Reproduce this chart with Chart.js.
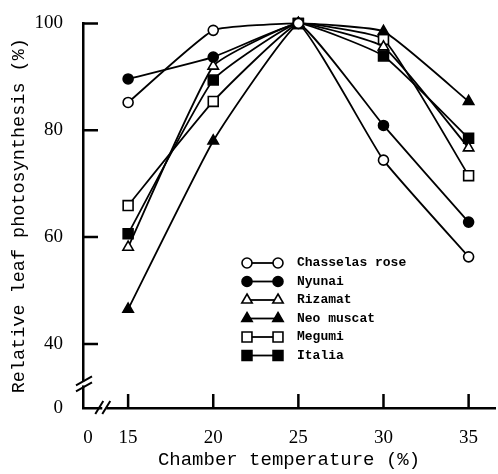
<!DOCTYPE html>
<html>
<head>
<meta charset="utf-8">
<script src="https://cdn.jsdelivr.net/npm/chart.js@4"></script>
<style>
  body { margin: 0; background: #fff; }
  #wrap { width: 498px; height: 474px; position: relative; }
</style>
</head>
<body>
<div id="wrap"><canvas id="tempChart"></canvas></div>
<script>
// Data
const temps = [15, 20, 25, 30, 35];
const chasselasRose = [85.2, 98.7, 100, 74.4, 56.3];
const nyunai = [89.6, 93.7, 100, 80.9, 62.8];
const rizamat = [58.1, 92.0, 100, 95.6, 76.7];
const neoMuscat = [46.5, 78.0, 100, 98.5, 85.4];
const megumi = [65.9, 85.4, 100, 97.0, 71.5];
const italia = [60.6, 89.4, 100, 93.9, 78.5];

const xTicks = [15, 20, 25, 30, 35];
const yTicks = [40, 60, 80, 100];

// broken axes: the "0" labels sit on compressed positions
const X_ZERO = 12.65, X_MIN = 12.35, X_MAX = 36.55, X_BREAK = 13.6;
const Y_ZERO = 28, Y_MIN = 28, Y_MAX = 100, Y_BREAK = 32.6;

function series(label, values, style, filled, radius) {
    return {
        label: label,
        data: temps.map((t, i) => ({ x: t, y: values[i] })),
        borderColor: '#000',
        borderWidth: 1.8,
        tension: 0.13,
        pointStyle: style,
        pointRadius: radius,
        pointHoverRadius: radius,
        pointBorderWidth: 1.6,
        pointBackgroundColor: filled ? '#000' : '#fff',
        pointBorderColor: '#000',
        clip: false
    };
}

const datasets = [
    series('Chasselas rose', chasselasRose, 'circle', false, 5),
    series('Nyunai', nyunai, 'circle', true, 5),
    series('Rizamat', rizamat, 'triangle', false, 6),
    series('Neo muscat', neoMuscat, 'triangle', true, 6),
    series('Megumi', megumi, 'rect', false, 7),
    series('Italia', italia, 'rect', true, 7)
];

// inward tick marks, axis breaks and the legend
const decorations = {
    id: 'decorations',
    afterDraw(chart) {
        const ctx = chart.ctx;
        const xs = chart.scales.x, ys = chart.scales.y;
        const left = chart.chartArea.left, bottom = chart.chartArea.bottom;
        ctx.save();
        ctx.strokeStyle = '#000';
        ctx.lineWidth = 2.5;
        ctx.beginPath();
        xTicks.forEach(v => {
            const px = xs.getPixelForValue(v);
            ctx.moveTo(px, bottom);
            ctx.lineTo(px, bottom - 14);
        });
        yTicks.forEach(v => {
            const py = ys.getPixelForValue(v);
            ctx.moveTo(left, py);
            ctx.lineTo(left + 15, py);
        });
        ctx.stroke();

        // y break
        const yb = ys.getPixelForValue(Y_BREAK);
        ctx.fillStyle = '#fff';
        ctx.fillRect(left - 3, yb - 2, 6, 4);
        ctx.lineWidth = 2;
        ctx.beginPath();
        ctx.moveTo(left - 7, yb + 2); ctx.lineTo(left + 9, yb - 7);
        ctx.moveTo(left - 7, yb + 8); ctx.lineTo(left + 9, yb - 1);
        ctx.stroke();

        // x break
        const xb = xs.getPixelForValue(X_BREAK);
        ctx.fillRect(xb - 2, bottom - 3, 4, 6);
        ctx.beginPath();
        ctx.moveTo(xb - 9, bottom + 6); ctx.lineTo(xb - 1, bottom - 7);
        ctx.moveTo(xb - 2, bottom + 6); ctx.lineTo(xb + 6, bottom - 7);
        ctx.stroke();

        // legend
        ctx.font = 'bold 13px "Liberation Mono"';
        ctx.textBaseline = 'middle';
        ctx.textAlign = 'left';
        chart.data.datasets.forEach((ds, i) => {
            const y = 263 + i * 18.5;
            ctx.lineWidth = 1.8;
            ctx.strokeStyle = '#000';
            ctx.beginPath();
            ctx.moveTo(247, y);
            ctx.lineTo(278, y);
            ctx.stroke();
            [247, 278].forEach(x => {
                ctx.fillStyle = ds.pointBackgroundColor;
                ctx.strokeStyle = '#000';
                ctx.lineWidth = 1.6;
                Chart.helpers.drawPoint(ctx, {
                    pointStyle: ds.pointStyle,
                    radius: ds.pointRadius,
                    rotation: 0,
                    borderWidth: 1.6
                }, x, y);
            });
            ctx.fillStyle = '#000';
            ctx.fillText(ds.label, 297, y);
        });
        ctx.restore();
    }
};

new Chart(document.getElementById('tempChart'), {
    type: 'line',
    data: { datasets: datasets },
    plugins: [decorations],
    options: {
        responsive: true,
        maintainAspectRatio: false,
        animation: false,
        layout: { autoPadding: false, padding: { top: 19, right: 3, left: 0, bottom: 0 } },
        plugins: {
            legend: { display: false },
            tooltip: { enabled: false }
        },
        scales: {
            x: {
                type: 'linear',
                min: X_MIN,
                max: X_MAX,
                afterBuildTicks: s => { s.ticks = [X_ZERO, ...xTicks].map(v => ({ value: v })); },
                afterFit: s => { s.height = 66; },
                ticks: {
                    color: '#000',
                    padding: 11,
                    maxRotation: 0,
                    font: { family: '"Liberation Serif"', size: 19 },
                    callback: v => (v === X_ZERO ? '0' : v)
                },
                grid: { display: false },
                border: { display: true, color: '#000', width: 2.5 },
                title: {
                    display: true,
                    text: 'Chamber temperature (%)',
                    color: '#000',
                    padding: { top: 0, bottom: 3 },
                    font: { family: '"Liberation Mono"', size: 19 }
                }
            },
            y: {
                min: Y_MIN,
                max: Y_MAX,
                afterBuildTicks: s => { s.ticks = [Y_ZERO, ...yTicks].map(v => ({ value: v })); },
                afterFit: s => { s.width = 83; },
                ticks: {
                    color: '#000',
                    padding: 12,
                    font: { family: '"Liberation Serif"', size: 19 },
                    callback: v => (v === Y_ZERO ? '0' : v)
                },
                grid: { display: false },
                border: { display: true, color: '#000', width: 2.5 },
                title: {
                    display: true,
                    text: 'Relative leaf photosynthesis (%)',
                    color: '#000',
                    padding: { top: 8, bottom: 0 },
                    font: { family: '"Liberation Mono"', size: 18.5 }
                }
            }
        }
    }
});
</script>
</body>
</html>
